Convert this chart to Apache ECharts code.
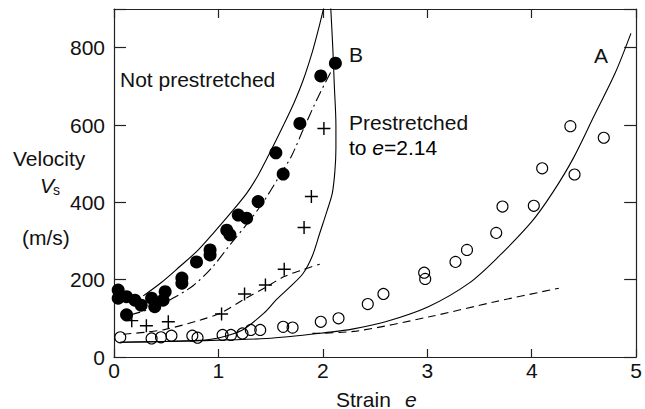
<!DOCTYPE html>
<html>
<head>
<meta charset="utf-8">
<script src="https://cdn.jsdelivr.net/npm/echarts@6/dist/echarts.min.js"></script>
<style>
html,body{margin:0;padding:0;background:#fff;}
#chart{width:645px;height:409px;}
</style>
</head>
<body>
<div id="chart"></div>
<script>
// ---- data ----
const strainTicks = [0, 1, 2, 3, 4, 5];
const velocityTicks = [0, 200, 400, 600, 800];

// Not prestretched (filled circles)
const filledStrain = [0.04,0.04,0.12,0.20,0.26,0.12,0.36,0.39,0.47,0.49,0.65,0.65,0.79,0.92,0.92,1.08,1.11,1.19,1.27,1.38,1.55,1.62,1.78,1.98,2.12];
const filledVel    = [173, 152, 156, 147, 134, 109, 152, 130, 147, 169, 204, 191, 246, 277, 264, 328, 316, 367, 359, 402, 528, 473, 604, 727, 760];

// Prestretched to e=2.14 (crosses)
const crossStrain = [0.17,0.31,0.52,1.03,1.25,1.45,1.63,1.82,1.89,2.01];
const crossVel    = [94, 81, 91, 111, 163, 186, 227, 335, 415, 591];

// Open circles
const openStrain = [0.06,0.36,0.45,0.55,0.75,0.80,1.04,1.12,1.23,1.31,1.40,1.62,1.71,1.98,2.15,2.43,2.58,2.97,2.98,3.27,3.38,3.66,3.72,4.02,4.10,4.41,4.37,4.69];
const openVel    = [51, 48, 51, 55, 55, 50, 57, 57, 61, 70, 70, 78, 76, 91, 100, 137, 163, 218, 202, 246, 277, 321, 389, 391, 488, 472, 597, 567];

// Fitted curves
const curveUpperE = [0.28,0.45,0.63,0.80,0.95,1.11,1.27,1.38,1.49,1.62,1.72,1.81,1.90,1.96,2.01];
const curveUpperV = [158, 192, 234, 275, 320, 370, 423, 470, 527, 598, 655, 715, 790, 850, 905];

const curveDashDotE = [0.15,0.35,0.55,0.76,0.95,1.11,1.27,1.42,1.58,1.70,1.81,1.95,2.12];
const curveDashDotV = [108, 125, 150, 185, 235, 290, 343, 397, 466, 520, 587, 670, 760];

const curvePreE = [0.06,0.50,0.82,1.01,1.23,1.45,1.55,1.68,1.81,1.90,1.97,2.04,2.09,2.115,2.125,2.125,2.11,2.095,2.075];
const curvePreV = [38, 40, 43, 50, 70, 117, 147, 180, 216, 262, 320, 378, 423, 480, 540, 600, 700, 800, 905];

const curvePreDashE = [0.09,0.30,0.50,0.82,1.03,1.25,1.45,1.63,1.80,1.97];
const curvePreDashV = [59, 64, 72, 95, 115, 150, 180, 208, 225, 240];

const curveAE = [0.06,0.80,1.46,2.09,2.28,2.60,3.01,3.40,3.68,4.00,4.20,4.40,4.60,4.80,4.95];
const curveAV = [38, 42, 48, 65, 72, 91, 130, 191, 259, 350, 425, 515, 625, 735, 837];

const curveADashE = [1.90,2.32,3.02,3.65,4.26];
const curveADashV = [61, 67, 104, 143, 178];

const zip = (a, b) => a.map((v, i) => [v, b[i]]);

// ---- chart ----
const FONT = 'Liberation Sans, Arial, Helvetica, sans-serif';
const chart = echarts.init(document.getElementById('chart'), null, {renderer: 'svg'});
const axisLineStyle = {color: '#222', width: 1.2};
const plusPath = 'path://M4.45,0 H5.55 V4.45 H10 V5.55 H5.55 V10 H4.45 V5.55 H0 V4.45 H4.45 Z';

const lineSeries = (e, v, type) => ({
  type: 'line', data: zip(e, v), showSymbol: false, smooth: 0.3, clip: true,
  lineStyle: {color: '#000', width: 1.1, type: type}, z: 2, silent: true
});

chart.setOption({
  animation: false,
  backgroundColor: '#fff',
  grid: {left: 114, right: 7, top: 9, bottom: 52, show: false},
  xAxis: [{
    type: 'value', min: strainTicks[0], max: strainTicks[strainTicks.length - 1], interval: 1,
    position: 'bottom',
    axisLine: {show: true, onZero: false, lineStyle: axisLineStyle},
    axisTick: {show: true, inside: true, length: 8, lineStyle: axisLineStyle},
    axisLabel: {show: true, fontSize: 21, color: '#111', fontFamily: FONT, margin: 3},
    splitLine: {show: false}
  }, {
    type: 'value', min: strainTicks[0], max: strainTicks[strainTicks.length - 1], interval: 1,
    position: 'top',
    axisLine: {show: true, onZero: false, lineStyle: axisLineStyle},
    axisTick: {show: true, inside: true, length: 9, lineStyle: axisLineStyle},
    axisLabel: {show: false},
    splitLine: {show: false}
  }],
  yAxis: [{
    type: 'value', min: 0, max: 900, interval: 200,
    position: 'left',
    axisLine: {show: true, onZero: false, lineStyle: axisLineStyle},
    axisTick: {show: true, inside: true, length: 12, lineStyle: axisLineStyle},
    axisLabel: {show: true, fontSize: 21, color: '#111', fontFamily: FONT, margin: 9,
      formatter: v => velocityTicks.includes(v) ? String(v) : ''},
    splitLine: {show: false}
  }, {
    type: 'value', min: 0, max: 900, interval: 200,
    position: 'right',
    axisLine: {show: true, onZero: false, lineStyle: axisLineStyle},
    axisTick: {show: true, inside: true, length: 12, lineStyle: axisLineStyle},
    axisLabel: {show: false},
    splitLine: {show: false}
  }],
  series: [
    lineSeries(curveUpperE, curveUpperV, 'solid'),
    lineSeries(curveDashDotE, curveDashDotV, [11, 4, 2, 4]),
    lineSeries(curvePreE, curvePreV, 'solid'),
    lineSeries(curvePreDashE, curvePreDashV, [8, 5]),
    lineSeries(curveAE, curveAV, 'solid'),
    lineSeries(curveADashE, curveADashV, [8, 5]),
    {
      type: 'scatter', data: zip(openStrain, openVel), symbol: 'circle', symbolSize: 11,
      itemStyle: {color: 'rgba(0,0,0,0)', borderColor: '#000', borderWidth: 1.1, opacity: 1}, z: 3, silent: true
    },
    {
      type: 'scatter', data: zip(crossStrain, crossVel), symbol: plusPath, symbolSize: 13,
      itemStyle: {color: '#000', opacity: 1}, z: 3, silent: true
    },
    {
      type: 'scatter', data: zip(filledStrain, filledVel), symbol: 'circle', symbolSize: 13,
      itemStyle: {color: '#000', opacity: 1}, z: 4, silent: true
    }
  ],
  graphic: [
    {type: 'text', x: 13, y: 158, style: {text: 'Velocity', fontSize: 21, fontFamily: FONT, fill: '#111', align: 'left', verticalAlign: 'middle'}},
    {type: 'text', x: 40, y: 185, style: {text: 'V', fontSize: 21, fontStyle: 'italic', fontFamily: FONT, fill: '#111', align: 'left', verticalAlign: 'middle'}},
    {type: 'text', x: 53, y: 190, style: {text: 's', fontSize: 14, fontFamily: FONT, fill: '#111', align: 'left', verticalAlign: 'middle'}},
    {type: 'text', x: 22, y: 237, style: {text: '(m/s)', fontSize: 21, fontFamily: FONT, fill: '#111', align: 'left', verticalAlign: 'middle'}},
    {type: 'text', x: 120, y: 79, style: {text: 'Not prestretched', fontSize: 21, fontFamily: FONT, fill: '#111', align: 'left', verticalAlign: 'middle'}},
    {type: 'text', x: 349, y: 54, style: {text: 'B', fontSize: 21, fontFamily: FONT, fill: '#111', align: 'left', verticalAlign: 'middle'}},
    {type: 'text', x: 594, y: 55, style: {text: 'A', fontSize: 21, fontFamily: FONT, fill: '#111', align: 'left', verticalAlign: 'middle'}},
    {type: 'text', x: 349, y: 122, style: {text: 'Prestretched', fontSize: 21, fontFamily: FONT, fill: '#111', align: 'left', verticalAlign: 'middle'}},
    {type: 'text', x: 349, y: 147, style: {
      text: '{n|to }{i|e}{n|=2.14}', align: 'left', verticalAlign: 'middle',
      rich: {
        n: {fontSize: 21, fontFamily: FONT, color: '#111'},
        i: {fontSize: 21, fontFamily: FONT, fontStyle: 'italic', color: '#111'}
      }}},
    {type: 'text', x: 336, y: 399, style: {text: 'Strain', fontSize: 21, fontFamily: FONT, fill: '#111', align: 'left', verticalAlign: 'middle'}},
    {type: 'text', x: 405, y: 399, style: {text: 'e', fontSize: 21, fontStyle: 'italic', fontFamily: FONT, fill: '#111', align: 'left', verticalAlign: 'middle'}}
  ]
});
</script>
</body>
</html>
